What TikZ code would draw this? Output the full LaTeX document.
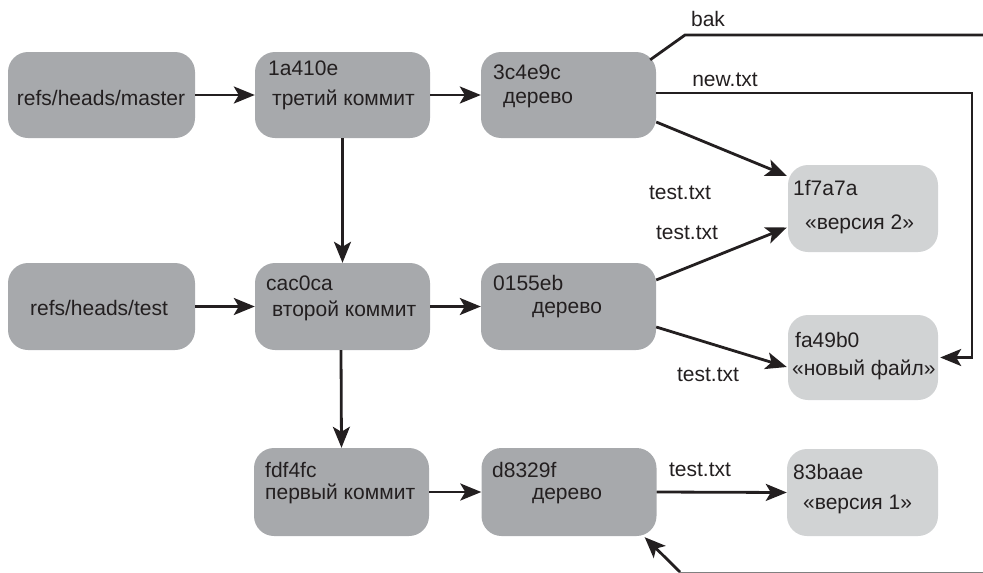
\documentclass[tikz,border=0pt]{standalone}
\usepackage{fontspec}
\setmainfont{Liberation Sans}
\usetikzlibrary{arrows.meta,calc}
\definecolor{darkbox}{RGB}{167,169,172}
\definecolor{lightbox}{RGB}{209,211,212}
\definecolor{ink}{RGB}{35,31,32}
\tikzset{
  box/.style={rounded corners=20pt, inner sep=0pt, draw=none},
  dbox/.style={box, fill=darkbox},
  lbox/.style={box, fill=lightbox},
  txt/.style={inner sep=0pt, text=ink, font=\fontsize{21}{24}\selectfont},
  conn/.style={draw=ink, line width=2.8pt, -{Stealth[length=21pt,width=17pt,inset=5pt]}},
  plain/.style={draw=ink, line width=2.8pt},
}
\begin{document}
\begin{tikzpicture}[x=1pt,y=-1pt]
\useasboundingbox (0,0) rectangle (983,573);
% boxes
\node[dbox, minimum width=187pt, minimum height=86pt] (m)  at (101.5,95) {};
\node[dbox, minimum width=175pt, minimum height=86pt] (c3) at (342.5,95) {};
\node[dbox, minimum width=175pt, minimum height=86pt] (t3) at (568.5,95) {};
\node[lbox, minimum width=150pt, minimum height=87pt] (b2) at (863,208.5) {};
\node[dbox, minimum width=187pt, minimum height=87pt] (rt) at (101.5,306.5) {};
\node[dbox, minimum width=175pt, minimum height=87pt] (c2) at (342.5,306.5) {};
\node[dbox, minimum width=175pt, minimum height=87pt] (t2) at (568.5,306.5) {};
\node[lbox, minimum width=150pt, minimum height=85pt] (bn) at (863,357.5) {};
\node[dbox, minimum width=175pt, minimum height=88pt] (c1) at (341.5,492) {};
\node[dbox, minimum width=175pt, minimum height=88pt] (t1) at (569,492) {};
\node[lbox, minimum width=151pt, minimum height=87pt] (b1) at (862.5,492.5) {};
% texts in boxes
\node[txt, anchor=base] (mt) at (101,105) {refs/heads/master};
\node[txt, anchor=base west] (c3a) at (268,75) {1a410e};
\node[txt, anchor=base west] (c3b) at (272,105) {третий коммит};
\node[txt, anchor=base west] (t3a) at (493,79) {3c4e9c};
\node[txt, anchor=base] (t3b) at (538,103) {дерево};
\node[txt, anchor=base west] (b2a) at (793,195) {1f7a7a};
\node[txt, anchor=base west] (b2b) at (805,229) {«версия 2»};
\node[txt, anchor=base] (rtt) at (99,315) {refs/heads/test};
\node[txt, anchor=base west] (c2a) at (266,290) {cac0ca};
\node[txt, anchor=base west] (c2b) at (272,316) {второй коммит};
\node[txt, anchor=base west] (t2a) at (493,290) {0155eb};
\node[txt, anchor=base] (t2b) at (567,313) {дерево};
\node[txt, anchor=base west] (bna) at (795,347) {fa49b0};
\node[txt, anchor=base west] (bnb) at (792,375) {«новый файл»};
\node[txt, anchor=base west] (c1a) at (265,477) {fdf4fc};
\node[txt, anchor=base west] (c1b) at (265,499) {первый коммит};
\node[txt, anchor=base west] (t1a) at (492,477) {d8329f};
\node[txt, anchor=base] (t1b) at (567,499) {дерево};
\node[txt, anchor=base west] (b1a) at (793,479) {83baae};
\node[txt, anchor=base west] (b1b) at (803,509) {«версия 1»};
% edge labels
\node[txt] (lbak) at (708,19) {bak};
\node[txt] (lnew) at (725,80) {new.txt};
\node[txt] (l1) at (680,193) {test.txt};
\node[txt] (l2) at (687,233) {test.txt};
\node[txt] (l3) at (708,375) {test.txt};
\node[txt] (l4) at (700,470) {test.txt};
% coordinates
\coordinate (bakA) at (685,35);
\coordinate (bakB) at (984,35);
\coordinate (newC) at (972,93);
\coordinate (botA) at (984,572);
\coordinate (botB) at (680,572);
% connectors
\draw[conn] (m.east) -- (c3.west);
\draw[conn] (c3.east) -- (t3.west);
\draw[conn] (c3.south) -- (c2.north);
\draw[conn] (rt.east) -- (c2.west);
\draw[conn] (c2.east) -- (t2.west);
\draw[conn] ([xshift=-1.5pt]c2.south) -- (c1.north);
\draw[conn] (c1.east) -- (t1.west);
\draw[conn] (t1.east) -- (b1.west);
\draw[conn] ([yshift=-27pt]t3.east) -- ([xshift=-1pt,yshift=-11pt]b2.north west);
\draw[conn] ([yshift=26.5pt]t2.east) -- ([xshift=-1pt,yshift=-19pt]b2.west);
\draw[conn] ([yshift=-20.5pt]t2.east) -- ([xshift=-1pt,yshift=-9.5pt]bn.west);
\draw[conn] ([yshift=2pt]t3.east) -- (newC) |- ([xshift=2pt]bn.east);
\draw[plain] ([xshift=-6pt,yshift=-8pt]t3.north east) -- (bakA) -- (bakB);
\draw[draw=gray, line width=1pt] (botA) -- (botB);
\draw[conn] (botB) -- ([xshift=-12pt,yshift=-1pt]t1.south east);
\end{tikzpicture}
\end{document}
